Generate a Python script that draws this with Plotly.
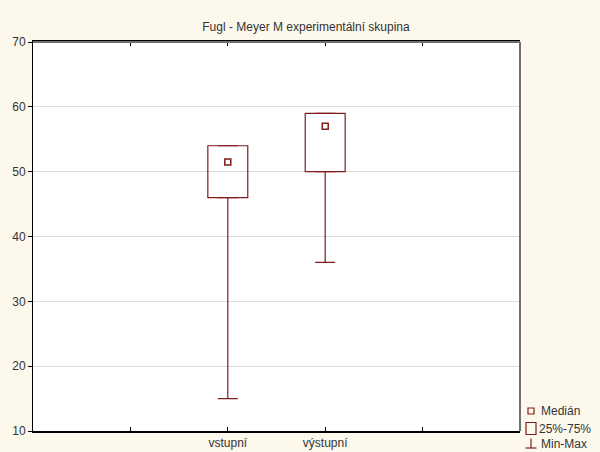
import plotly.graph_objects as go

# ---- data ----
categories = ["vstupní", "výstupní"]
medians = [51.5, 57.0]
q1 = [46.0, 50.0]
q3 = [54.0, 59.0]
mins = [15.0, 36.0]
maxs = [54.0, 59.0]
y_ticks = [10, 20, 30, 40, 50, 60, 70]
title_text = "Fugl - Meyer M experimentální skupina"
legend_labels = ["Medián", "25%-75%", "Min-Max"]

RED = "#7f1d1d"
FONT = "Arial, Liberation Sans, sans-serif"
W, H = 600, 452
ML, MR, MT, MB = 33, 80, 42, 21
PW, PH = W - ML - MR, H - MT - MB

def px_x(p):
    return (p - ML) / PW

def px_y(p):
    return (H - MB - p) / PH

xpos = [i + 2 for i in range(len(categories))]

fig = go.Figure()

# boxes (25%-75%)
fig.add_trace(go.Bar(
    x=xpos, y=[b - a for a, b in zip(q1, q3)], base=q1, width=0.41,
    marker=dict(color="rgba(255,255,255,0)", line=dict(color=RED, width=1.2)),
    showlegend=False, hoverinfo="skip"))

# lower whiskers
fig.add_trace(go.Scatter(
    x=xpos, y=q1, mode="markers", marker=dict(size=1, color="rgba(0,0,0,0)"),
    error_y=dict(type="data", symmetric=False, array=[0] * len(q1),
                 arrayminus=[a - m for a, m in zip(q1, mins)],
                 color=RED, thickness=1.2, width=10),
    showlegend=False, hoverinfo="skip"))

# upper whiskers
fig.add_trace(go.Scatter(
    x=xpos, y=q3, mode="markers", marker=dict(size=1, color="rgba(0,0,0,0)"),
    error_y=dict(type="data", symmetric=False, array=[m - b for b, m in zip(q3, maxs)],
                 arrayminus=[0] * len(q3), color=RED, thickness=1.2, width=10),
    showlegend=False, hoverinfo="skip"))

# medians
fig.add_trace(go.Scatter(
    x=xpos, y=medians, mode="markers",
    marker=dict(symbol="square-open", size=6, color=RED, line=dict(width=1.5, color=RED)),
    showlegend=False, hoverinfo="skip"))

shapes = [
    # top and right frame (gray)
    dict(type="line", xref="paper", yref="paper", x0=0, x1=1, y0=1, y1=1,
         line=dict(color="#707070", width=2), layer="above"),
    dict(type="line", xref="paper", yref="paper", x0=1, x1=1, y0=0, y1=1,
         line=dict(color="#707070", width=2), layer="above"),
    # legend symbols
    dict(type="rect", xref="paper", yref="paper", x0=px_x(528), x1=px_x(534),
         y0=px_y(414), y1=px_y(408), line=dict(color=RED, width=1.2)),
    dict(type="rect", xref="paper", yref="paper", x0=px_x(526), x1=px_x(536),
         y0=px_y(434.5), y1=px_y(422.5), line=dict(color=RED, width=1.2)),
    dict(type="line", xref="paper", yref="paper", x0=px_x(531), x1=px_x(531),
         y0=px_y(448), y1=px_y(438.5), line=dict(color=RED, width=1.2)),
    dict(type="line", xref="paper", yref="paper", x0=px_x(525.5), x1=px_x(536.5),
         y0=px_y(448), y1=px_y(448), line=dict(color=RED, width=1.2)),
]

annotations = []
for lbl, xx, yy in zip(legend_labels, [539, 537, 539], [411, 428.5, 444]):
    annotations.append(dict(text=lbl, xref="paper", yref="paper", x=px_x(xx), y=px_y(yy),
                            xanchor="left", yanchor="middle", showarrow=False,
                            font=dict(family=FONT, size=12, color="#333333")))

fig.update_layout(
    width=W, height=H,
    margin=dict(l=ML, r=MR, t=MT, b=MB, pad=0, autoexpand=False),
    paper_bgcolor="#fdf8ec", plot_bgcolor="white",
    barmode="overlay",
    font=dict(family=FONT, size=12, color="#333333"),
    title=dict(text=title_text, x=306 / W, xanchor="center", y=1 - 27 / H, yanchor="middle",
               yref="container", automargin=False,
               font=dict(family=FONT, size=12, color="#333333")),
    shapes=shapes, annotations=annotations, showlegend=False,
)
fig.update_xaxes(range=[0, 5], tickvals=[1, 2, 3, 4],
                 ticktext=[""] + categories + [""], automargin=False,
                 ticks="inside", ticklen=4, tickcolor="black", tickwidth=1,
                 showline=True, linecolor="black", linewidth=1.5, mirror="ticks",
                 showgrid=False, zeroline=False,
                 tickfont=dict(family=FONT, size=12, color="#333333"))
fig.update_yaxes(range=[10, 70], tickvals=y_ticks, automargin=False,
                 ticks="outside", ticklen=4, tickcolor="black", tickwidth=1,
                 showline=True, linecolor="black", linewidth=1,
                 showgrid=True, gridcolor="#dcdcdc", gridwidth=1, zeroline=False,
                 tickfont=dict(family=FONT, size=12, color="#333333"))

fig.write_html("out.html", config={"displayModeBar": False},
               post_script="document.body.style.margin='0';document.body.style.overflow='hidden';")
